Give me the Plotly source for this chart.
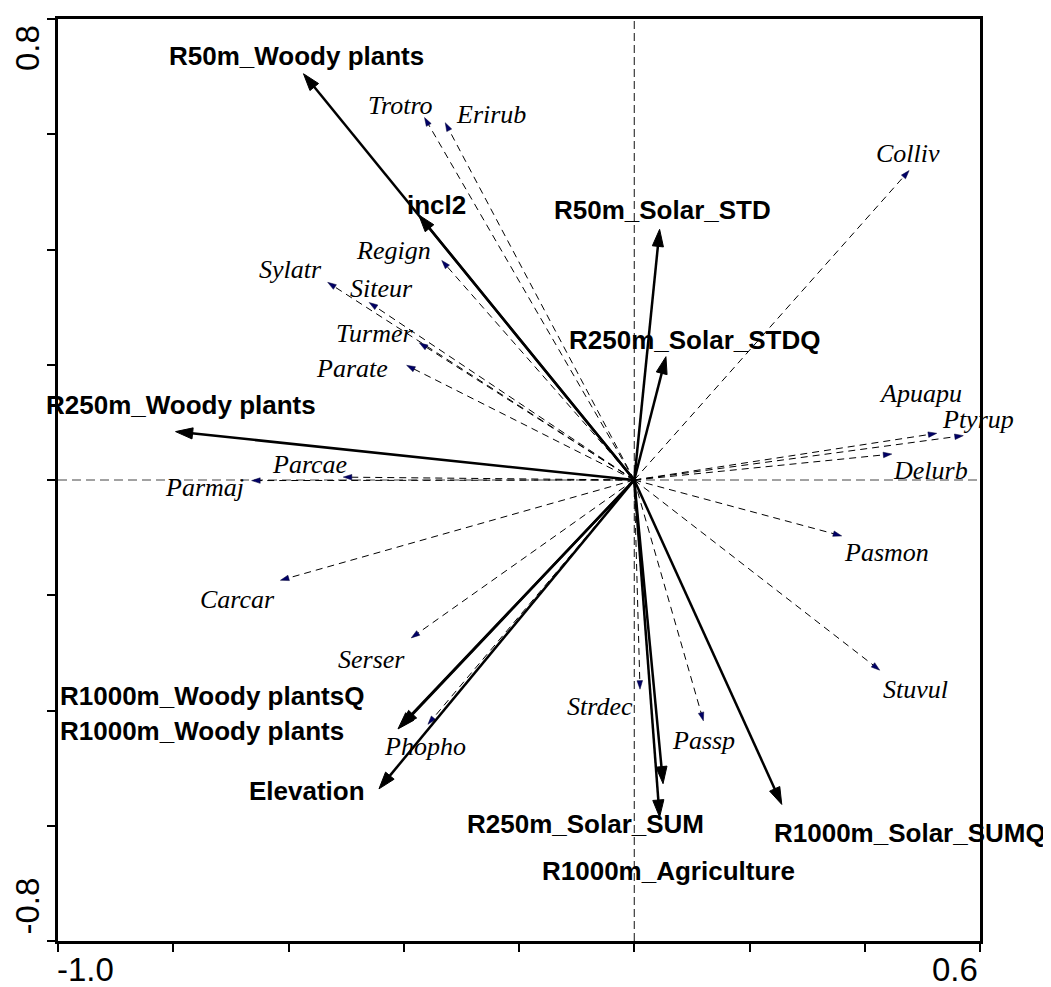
import plotly.graph_objects as go

# ---------------- data ----------------
env_names = ["R50m_Woody plants", "incl2", "R250m_Woody plants", "R50m_Solar_STD",
             "R250m_Solar_STDQ", "R1000m_Woody plantsQ", "R1000m_Woody plants",
             "Elevation", "R250m_Solar_SUM", "R1000m_Agriculture", "R1000m_Solar_SUMQ"]
env_x = [-0.574, -0.374, -0.796, 0.044, 0.055, -0.410, -0.405, -0.443, 0.050, 0.044, 0.256]
env_y = [0.705, 0.460, 0.084, 0.435, 0.214, -0.432, -0.428, -0.536, -0.527, -0.585, -0.563]

spp_names = ["Trotro", "Erirub", "Colliv", "Regign", "Sylatr", "Siteur", "Turmer",
             "Parate", "Apuapu", "Ptyrup", "Delurb", "Parcae", "Parmaj", "Carcar",
             "Serser", "Phopho", "Strdec", "Passp", "Pasmon", "Stuvul"]
spp_x = [-0.364, -0.328, 0.477, -0.334, -0.532, -0.460, -0.373, -0.395, 0.525, 0.571,
         0.447, -0.505, -0.664, -0.614, -0.387, -0.358, 0.010, 0.120, 0.360, 0.426]
spp_y = [0.629, 0.620, 0.537, 0.381, 0.343, 0.308, 0.238, 0.199, 0.081, 0.077,
         0.045, 0.005, -0.001, -0.174, -0.274, -0.424, -0.363, -0.418, -0.097, -0.330]

x_range = [-1.0, 0.6]
y_range = [-0.8, 0.8]
x_ticks = [-1.0, -0.8, -0.6, -0.4, -0.2, 0.0, 0.2, 0.4, 0.6]
y_ticks = [-0.8, -0.6, -0.4, -0.2, 0.0, 0.2, 0.4, 0.6, 0.8]

# ---------------- label placement (pixel offsets from arrow tips: dx right, dy down) ----
env_label_offset = {
    "R50m_Woody plants": (-7, -18), "incl2": (18, -10), "R250m_Woody plants": (5, -27),
    "R50m_Solar_STD": (3, -19), "R250m_Solar_STDQ": (29, -17),
    "R1000m_Woody plantsQ": (-186, -33), "R1000m_Woody plants": (-199, 4),
    "Elevation": (-72, 2), "R250m_Solar_SUM": (-78, 40), "R1000m_Agriculture": (9, 54),
    "R1000m_Solar_SUMQ": (128, 29),
}
spp_label_offset = {
    "Trotro": (-24, -12), "Erirub": (46, -8), "Colliv": (-1, -17), "Regign": (-48, -10),
    "Sylatr": (-37, -13), "Siteur": (12, -14), "Turmer": (-45, -9), "Parate": (-55, 3),
    "Apuapu": (-16, -40), "Ptyrup": (15, -16), "Delurb": (39, 16), "Parcae": (-34, -13),
    "Parmaj": (-47, 7), "Carcar": (-43, 19), "Serser": (-40, 22), "Phopho": (-3, 22),
    "Strdec": (-40, 17), "Passp": (0, 20), "Pasmon": (45, 17), "Stuvul": (36, 19),
}

SANS = "Liberation Sans, Arial, sans-serif"
SERIF = "Liberation Serif, Times New Roman, serif"

fig = go.Figure()

# species arrows: thin dashed with small navy heads
for n, x, y in zip(spp_names, spp_x, spp_y):
    fig.add_trace(go.Scatter(
        x=[0, x], y=[0, y], mode="lines+markers",
        line=dict(color="black", width=1, dash="7px,5px"),
        marker=dict(symbol="arrow", angleref="previous", size=[0, 9], opacity=1,
                    color="#000066", line=dict(width=0.5, color="#000033")),
        hoverinfo="skip", showlegend=False, cliponaxis=False))

# environmental arrows: thick solid black
for n, x, y in zip(env_names, env_x, env_y):
    fig.add_trace(go.Scatter(
        x=[0, x], y=[0, y], mode="lines+markers",
        line=dict(color="black", width=2.5),
        marker=dict(symbol="arrow", angleref="previous", size=[0, 18], opacity=1,
                    color="black", line=dict(width=1, color="black")),
        hoverinfo="skip", showlegend=False, cliponaxis=False))

annotations = []
for n, x, y in zip(spp_names, spp_x, spp_y):
    dx, dy = spp_label_offset[n]
    annotations.append(dict(x=x, y=y, xref="x", yref="y", text=n, showarrow=False,
                            xshift=dx, yshift=-dy, xanchor="center", yanchor="middle",
                            font=dict(family=SERIF, size=26, style="italic", color="black")))
for n, x, y in zip(env_names, env_x, env_y):
    dx, dy = env_label_offset[n]
    annotations.append(dict(x=x, y=y, xref="x", yref="y", text=n, showarrow=False,
                            xshift=dx, yshift=-dy, xanchor="center", yanchor="middle",
                            font=dict(family=SANS, size=26, weight="bold", color="black")))

# axis end labels (CANOCO style)
axis_font = dict(family=SANS, size=33, color="black")
annotations += [
    dict(x=x_range[0], y=0, xref="x", yref="paper", text=f"{x_range[0]:.1f}", showarrow=False,
         xanchor="left", yanchor="middle", yshift=-28, xshift=-3, font=axis_font),
    dict(x=x_range[1], y=0, xref="x", yref="paper", text=f"{x_range[1]:.1f}", showarrow=False,
         xanchor="right", yanchor="middle", yshift=-28, font=axis_font),
    dict(x=0, y=y_range[1], xref="paper", yref="y", text=f"{y_range[1]:.1f}", showarrow=False,
         textangle=-90, xanchor="center", yanchor="top", xshift=-31, yshift=-4, font=axis_font),
    dict(x=0, y=y_range[0], xref="paper", yref="y", text=f"{y_range[0]:.1f}", showarrow=False,
         textangle=-90, xanchor="center", yanchor="bottom", xshift=-31, yshift=4, font=axis_font),
]

shapes = [
    dict(type="line", xref="x", yref="paper", x0=0, x1=0, y0=0, y1=1, layer="below",
         line=dict(color="#111", width=1, dash="8px,4px")),
    dict(type="line", xref="paper", yref="y", x0=0, x1=1, y0=0, y1=0, layer="below",
         line=dict(color="#444", width=1, dash="9px,5px")),
]

axis_common = dict(showgrid=False, zeroline=False, showline=True, mirror=True,
                   linecolor="black", linewidth=2.5, ticks="outside", ticklen=8,
                   tickwidth=2, tickcolor="black", showticklabels=False, fixedrange=True)

# the page body has an 8px default margin, so the figure is sized/offset to compensate
fig.update_layout(
    width=1043, height=979, autosize=False,
    margin=dict(l=50, r=71, t=8, b=46),
    paper_bgcolor="white", plot_bgcolor="white",
    xaxis=dict(range=x_range, tickvals=x_ticks, **axis_common),
    yaxis=dict(range=y_range, tickvals=y_ticks, **axis_common),
    annotations=annotations, shapes=shapes, showlegend=False,
)

fig.write_html("out.html")
